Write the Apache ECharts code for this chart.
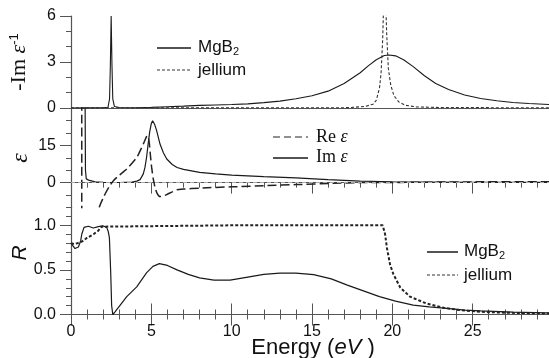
<!DOCTYPE html>
<html>
<head>
<meta charset="utf-8">
<script src="https://cdn.jsdelivr.net/npm/echarts@6/dist/echarts.min.js"></script>
<style>html,body{margin:0;padding:0;background:#fff;}#c{width:549px;height:358px;}</style>
</head>
<body>
<div id="c"></div>
<script>
// ---------- DATA ----------
// Top panel: energy-loss function -Im(1/eps)
const lossMgB2X = [0, 1, 2, 2.3, 2.4, 2.45, 2.5, 2.55, 2.6, 2.7, 3, 4, 5, 6, 7, 8, 9, 10, 11, 12, 13, 14, 15, 16, 17, 18, 18.5, 19, 19.5, 19.8, 20.2, 20.7, 21.3, 22, 22.7, 23.5, 24.5, 25.5, 26.5, 27.5, 28.5, 30];
const lossMgB2Y = [0.0, 0.01, 0.02, 0.05, 0.6, 2.8, 6.0, 2.8, 0.6, 0.1, 0.03, 0.02, 0.04, 0.08, 0.12, 0.17, 0.2, 0.23, 0.27, 0.35, 0.45, 0.6, 0.8, 1.1, 1.6, 2.3, 2.75, 3.15, 3.42, 3.46, 3.4, 3.15, 2.7, 2.1, 1.6, 1.2, 0.85, 0.62, 0.47, 0.36, 0.29, 0.22];
const lossJelX = [0, 10, 17, 17.5, 18.3, 18.8, 19.0, 19.2, 19.3, 19.4, 19.45, 19.52, 19.6, 19.65, 19.75, 19.9, 20.1, 20.4, 20.8, 21.5, 23, 30];
const lossJelY = [0.01, 0.01, 0.02, 0.04, 0.1, 0.25, 0.5, 1.3, 2.3, 4.5, 6.5, 8, 6.5, 4.8, 2.6, 1.5, 0.8, 0.4, 0.18, 0.07, 0.03, 0.01];

// Middle panel: dielectric function
const reEpsX = [0, 0.66, 0.68, 1.5, 1.76, 2.0, 2.2, 2.43, 2.64, 3.0, 3.47, 4.1, 4.5, 4.7, 4.75, 4.82, 4.88, 4.95, 5.02, 5.12, 5.23, 5.35, 5.54, 5.75, 5.96, 6.3, 6.58, 7, 8, 10, 12.2, 14, 16.3, 18, 20.5, 25, 30];
const reEpsY = [100, 80, -80, -25, -10, -6.2, -3.6, -1.1, 0.8, 2.9, 5.5, 10.2, 15.5, 18.5, 18.9, 18, 15.5, 10.5, 6.1, 1.5, -1.9, -4.2, -5.6, -5.4, -4.8, -3.7, -2.9, -2.6, -2.2, -1.7, -1.2, -0.8, -0.3, 0, 0.1, 0.3, 0.4];
const imEpsX = [0, 0.85, 0.88, 0.9, 0.95, 1.0, 1.1, 1.2, 1.5, 2, 3, 3.8, 4.1, 4.3, 4.5, 4.6, 4.7, 4.8, 4.9, 5.0, 5.08, 5.2, 5.33, 5.54, 5.75, 5.96, 6.3, 6.6, 7, 8, 9, 10, 12, 14, 16, 18, 20, 22, 25, 30];
const imEpsY = [200, 60, 30, 5, 1.5, 1.2, 1.0, 0.8, 0.3, 0.1, 0.05, 0.2, 0.6, 1.2, 3.5, 6, 10, 15.5, 20.5, 23.8, 24.9, 23.5, 20.9, 15.5, 12, 9.5, 7.3, 6.1, 5.3, 4.1, 3.5, 3.0, 2.4, 1.9, 1.2, 0.6, 0.35, 0.25, 0.15, 0.1];

// Bottom panel: reflectivity R
const rMgB2X = [0, 0.08, 0.25, 0.46, 0.6, 0.67, 0.81, 1.08, 1.39, 1.7, 1.97, 2.22, 2.32, 2.39, 2.47, 2.53, 2.6, 2.74, 3.47, 4.09, 4.71, 5.1, 5.5, 6.0, 6.6, 7.3, 8.0, 8.9, 9.9, 11, 12, 13, 14, 15.1, 16.2, 17.2, 18.2, 19.2, 20.2, 21.3, 22.3, 23.4, 24.5, 25.5, 27.5, 29.6, 30];
const rMgB2Y = [0.8, 0.8, 0.74, 0.757, 0.825, 0.9, 0.977, 0.99, 0.97, 0.985, 0.995, 0.977, 0.93, 0.86, 0.48, 0.1, 0.0, 0.03, 0.2, 0.31, 0.47, 0.54, 0.57, 0.55, 0.5, 0.45, 0.41, 0.385, 0.385, 0.42, 0.45, 0.465, 0.465, 0.447, 0.4, 0.33, 0.265, 0.2, 0.15, 0.106, 0.085, 0.068, 0.05, 0.04, 0.027, 0.018, 0.017];
const rJelX = [0, 0.2, 0.4, 0.7, 1.0, 1.4, 1.7, 1.9, 2.0, 10, 19.4, 19.55, 19.66, 19.86, 20.07, 20.5, 21.1, 22.1, 23.2, 24.2, 25.5, 27, 30];
const rJelY = [0.8, 0.79, 0.8, 0.82, 0.86, 0.9, 0.94, 0.985, 1.0, 1.0, 1.0, 0.9, 0.75, 0.56, 0.45, 0.3, 0.2, 0.125, 0.075, 0.05, 0.03, 0.02, 0.01];

// Tick labels
const xTickLabels = [0, 5, 10, 15, 20, 25];
const topYTicks = [0, 3, 6];
const midYTicks = [0, 15];
const botYTicks = [0, 0.5, 1.0];

// ---------- CHART ----------
const pairs = (xs, ys) => xs.map((x, i) => [x, ys[i]]);
const AX = '#555';
const INK = '#1a1a1a';
const SANS = '"Liberation Sans", Arial, sans-serif';
const SERIF = '"Liberation Serif", "Times New Roman", serif';

function xAx(grid, pos, ticks, labels) {
  return {
    gridIndex: grid, type: 'value', min: 0, max: 30, interval: 5, position: pos,
    axisLine: { show: true, lineStyle: { color: AX, width: 1.2 } },
    axisTick: { show: ticks, inside: true, length: 11, lineStyle: { color: AX, width: 1 } },
    minorTick: { show: ticks, splitNumber: 5, length: 5, lineStyle: { color: AX, width: 1 } },
    axisLabel: labels ? {
      show: true, margin: 9, fontSize: 16, color: '#111', fontFamily: SANS,
      formatter: v => (xTickLabels.indexOf(v) >= 0 ? String(v) : '')
    } : { show: false },
    splitLine: { show: false }
  };
}
function yMinor(grid, min, max, interval) {
  return {
    gridIndex: grid, type: 'value', min, max, interval, position: 'left',
    axisLine: { show: true, lineStyle: { color: AX, width: 1.2 } },
    axisTick: { show: true, length: 5, lineStyle: { color: AX } },
    axisLabel: { show: false }, splitLine: { show: false }
  };
}
function yMajor(grid, min, max, vals, fmt) {
  return {
    gridIndex: grid, type: 'value', min, max, position: 'left', offset: 0,
    axisLine: { show: false },
    axisTick: { show: true, length: 11, customValues: vals, lineStyle: { color: AX } },
    axisLabel: { show: true, customValues: vals, margin: 15, fontSize: 16, color: '#111', fontFamily: SANS, formatter: fmt },
    splitLine: { show: false }
  };
}
const gridBase = { left: 71, right: -4, containLabel: false, outerBoundsMode: 'none' };

const option = {
  animation: false,
  backgroundColor: '#fff',
  grid: [
    Object.assign({ top: 16, height: 92 }, gridBase),
    Object.assign({ top: 108, height: 99.5 }, gridBase),
    Object.assign({ top: 207.5, height: 107 }, gridBase)
  ],
  xAxis: [
    xAx(0, 'bottom', false, false),
    xAx(1, 'top', true, false),
    xAx(2, 'top', true, false),
    xAx(2, 'bottom', true, true)
  ],
  yAxis: [
    yMinor(0, 0, 6, 1),
    yMajor(0, 0, 6, topYTicks, v => String(v)),
    yMinor(1, -10, 30, 5),
    yMajor(1, -10, 30, midYTicks, v => String(v)),
    yMinor(2, 0, 1.2, 0.1),
    yMajor(2, 0, 1.2, botYTicks, v => Number(v).toFixed(1))
  ],
  series: [
    { name: 'MgB2 loss', type: 'line', xAxisIndex: 0, yAxisIndex: 0, data: pairs(lossMgB2X, lossMgB2Y), showSymbol: false, symbol: 'none', clip: true, lineStyle: { color: INK, width: 1.1 } },
    { name: 'jellium loss', type: 'line', xAxisIndex: 0, yAxisIndex: 0, data: pairs(lossJelX, lossJelY), showSymbol: false, symbol: 'none', clip: true, lineStyle: { color: '#333', width: 1.1, type: [3, 2] } },
    { name: 'Im eps', type: 'line', xAxisIndex: 1, yAxisIndex: 2, data: pairs(imEpsX, imEpsY), showSymbol: false, symbol: 'none', clip: true, lineStyle: { color: INK, width: 1.2 },
      markLine: { silent: true, symbol: 'none', label: { show: false }, lineStyle: { color: '#aaa', type: [4, 3], width: 1 }, data: [{ yAxis: 0 }] } },
    { name: 'Re eps', type: 'line', xAxisIndex: 1, yAxisIndex: 2, data: pairs(reEpsX, reEpsY), showSymbol: false, symbol: 'none', clip: true, smooth: 0.2, lineStyle: { color: '#222', width: 1.5, type: [9, 4] } },
    { name: 'MgB2 R', type: 'line', xAxisIndex: 3, yAxisIndex: 4, data: pairs(rMgB2X, rMgB2Y), showSymbol: false, symbol: 'none', clip: true, lineStyle: { color: INK, width: 1.2 } },
    { name: 'jellium R', type: 'line', xAxisIndex: 3, yAxisIndex: 4, data: pairs(rJelX, rJelY), showSymbol: false, symbol: 'none', clip: true, lineStyle: { color: '#222', width: 2, type: [3, 2] } }
  ],
  graphic: [
    // axis titles
    { type: 'text', x: 313, y: 348, style: { text: 'Energy ({i|eV} )', align: 'center', verticalAlign: 'middle', fill: '#111', font: '22px ' + SANS,
      rich: { i: { fontStyle: 'italic', fontSize: 22, fontFamily: SANS, fill: '#111' } } } },
    { type: 'text', x: 19, y: 62, rotation: Math.PI / 2, style: { text: '-Im {e|ε}{s|-1}', align: 'center', verticalAlign: 'middle', fill: '#111', font: '22px ' + SERIF,
      rich: { e: { fontStyle: 'italic', fontSize: 22, fontFamily: SERIF, fill: '#111' }, s: { fontSize: 13, fontFamily: SANS, fill: '#111', verticalAlign: 'top' } } } },
    { type: 'text', x: 21, y: 158, rotation: Math.PI / 2, style: { text: 'ε', align: 'center', verticalAlign: 'middle', fill: '#111', font: 'italic 24px ' + SERIF } },
    { type: 'text', x: 20, y: 253, rotation: Math.PI / 2, style: { text: 'R', align: 'center', verticalAlign: 'middle', fill: '#111', font: 'italic 21px ' + SANS } },
    // top legend
    { type: 'line', shape: { x1: 157, y1: 48, x2: 191, y2: 48 }, style: { stroke: INK, lineWidth: 1.5 } },
    { type: 'line', shape: { x1: 157, y1: 70, x2: 191, y2: 70 }, style: { stroke: '#333', lineWidth: 1, lineDash: [3, 2] } },
    { type: 'text', x: 198, y: 47, style: { text: 'MgB{s|2}', align: 'left', verticalAlign: 'middle', fill: '#111', font: '17px ' + SANS, rich: { s: { fontSize: 11, fontFamily: SANS, fill: '#111', verticalAlign: 'bottom', padding: [10, 0, 0, 0] } } } },
    { type: 'text', x: 198, y: 70, style: { text: 'jellium', align: 'left', verticalAlign: 'middle', fill: '#111', font: '17px ' + SANS } },
    // middle legend
    { type: 'line', shape: { x1: 273, y1: 137, x2: 308, y2: 137 }, style: { stroke: '#222', lineWidth: 1.2, lineDash: [7, 4] } },
    { type: 'line', shape: { x1: 273, y1: 158, x2: 308, y2: 158 }, style: { stroke: INK, lineWidth: 1.5 } },
    { type: 'text', x: 316, y: 137, style: { text: 'Re {e|ε}', align: 'left', verticalAlign: 'middle', fill: '#111', font: '18px ' + SERIF, rich: { e: { fontStyle: 'italic', fontSize: 18, fontFamily: SERIF, fill: '#111' } } } },
    { type: 'text', x: 316, y: 157, style: { text: 'Im {e|ε}', align: 'left', verticalAlign: 'middle', fill: '#111', font: '18px ' + SERIF, rich: { e: { fontStyle: 'italic', fontSize: 18, fontFamily: SERIF, fill: '#111' } } } },
    // bottom legend
    { type: 'line', shape: { x1: 427, y1: 252, x2: 458, y2: 252 }, style: { stroke: INK, lineWidth: 1.5 } },
    { type: 'line', shape: { x1: 427, y1: 275, x2: 458, y2: 275 }, style: { stroke: '#333', lineWidth: 1, lineDash: [3, 2] } },
    { type: 'text', x: 464, y: 251, style: { text: 'MgB{s|2}', align: 'left', verticalAlign: 'middle', fill: '#111', font: '17px ' + SANS, rich: { s: { fontSize: 11, fontFamily: SANS, fill: '#111', verticalAlign: 'bottom', padding: [10, 0, 0, 0] } } } },
    { type: 'text', x: 464, y: 275, style: { text: 'jellium', align: 'left', verticalAlign: 'middle', fill: '#111', font: '17px ' + SANS } }
  ]
};
const chart = echarts.init(document.getElementById('c'), null, { renderer: 'canvas', width: 549, height: 358 });
chart.setOption(option);
</script>
</body>
</html>
